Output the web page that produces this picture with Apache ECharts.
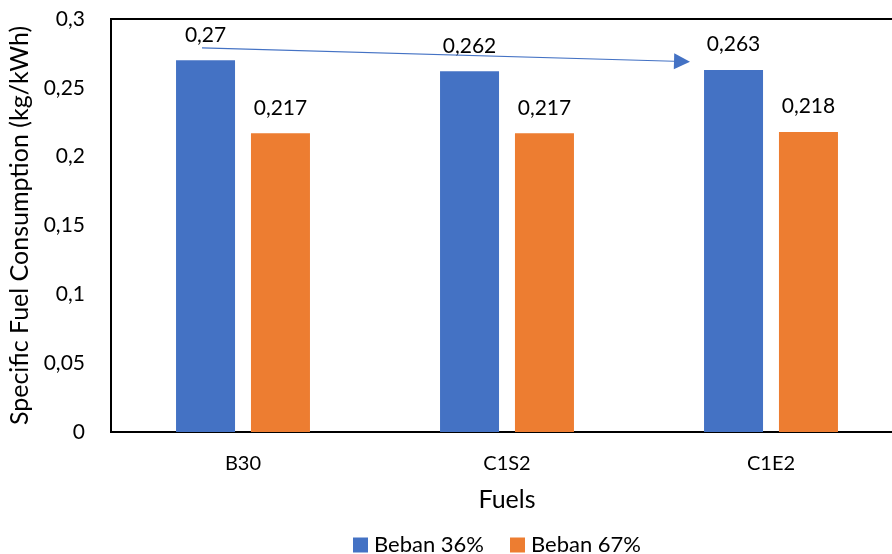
<!DOCTYPE html>
<html><head><meta charset="utf-8">
<script src="https://cdn.jsdelivr.net/npm/echarts@6/dist/echarts.min.js"></script>
<style>html,body{margin:0;padding:0;background:#fff}#c{width:892px;height:554px}</style>
</head><body><div id="c"></div>
<script>
const categories = ['B30', 'C1S2', 'C1E2'];
const beban36 = [0.27, 0.262, 0.263];
const beban67 = [0.217, 0.217, 0.218];
const seriesNames = ['Beban 36%', 'Beban 67%'];
const arrowStart = ['B30', 0.279];
const arrowEnd = ['C1E2', 0.269];

const FONT = 'Lato';
const fmt = v => String(v).replace('.', ',');
const chart = echarts.init(document.getElementById('c'), null, {renderer: 'canvas'});
const labelStyle = {show: true, position: 'top', distance: 15, fontFamily: FONT, fontSize: 21, color: '#000',
  formatter: p => fmt(p.value)};
chart.setOption({
  animation: false,
  textStyle: {fontFamily: FONT},
  grid: {left: 111, right: -11, top: 19, bottom: 122, show: true, borderColor: '#000', borderWidth: 2,
    outerBoundsMode: 'none', containLabel: false},
  legend: {top: 529, left: 348, itemWidth: 15, itemHeight: 15, itemGap: 26, icon: 'rect',
    textStyle: {fontFamily: FONT, fontSize: 22, color: '#000', padding: [0, 0, 0, 1]}, data: seriesNames},
  xAxis: {type: 'category', data: categories, name: 'Fuels', nameLocation: 'middle', nameGap: 55,
    nameTextStyle: {fontFamily: FONT, fontSize: 25, color: '#000'},
    axisLine: {lineStyle: {color: '#000', width: 2}}, axisTick: {show: false},
    axisLabel: {fontFamily: FONT, fontSize: 20, color: '#000', margin: 22}},
  yAxis: {type: 'value', min: 0, max: 0.3, interval: 0.05,
    name: 'Specific Fuel Consumption (kg/kWh)', nameLocation: 'middle', nameGap: 77,
    nameTextStyle: {fontFamily: FONT, fontSize: 25, color: '#000'},
    axisLine: {show: true, lineStyle: {color: '#000', width: 2}}, axisTick: {show: false},
    splitLine: {show: false},
    axisLabel: {fontFamily: FONT, fontSize: 21, color: '#000', margin: 26,
      formatter: v => fmt(+v.toFixed(2))}},
  series: [
    {name: seriesNames[0], type: 'bar', data: beban36, barWidth: 59, barGap: '27%',
      itemStyle: {color: '#4472C4'}, label: labelStyle},
    {name: seriesNames[1], type: 'bar', data: beban67, barWidth: 59,
      itemStyle: {color: '#ED7D31'}, label: labelStyle}
  ]
});
// Annotation arrow between Beban 36% bars
const p0 = chart.convertToPixel({gridIndex: 0}, arrowStart);
const p1 = chart.convertToPixel({gridIndex: 0}, arrowEnd);
const x0 = p0[0] - 41, y0 = p0[1];
const x1 = p1[0] - 81, y1 = p1[1];
const ang = Math.atan2(y1 - y0, x1 - x0);
const hl = 16, hw = 8;
const bx = x1 - hl * Math.cos(ang), by = y1 - hl * Math.sin(ang);
chart.setOption({graphic: [
  {type: 'line', shape: {x1: x0, y1: y0, x2: bx, y2: by}, style: {stroke: '#4472C4', lineWidth: 1.2}, z: 100},
  {type: 'polygon', shape: {points: [[x1, y1],
    [bx - hw * Math.sin(ang), by + hw * Math.cos(ang)],
    [bx + hw * Math.sin(ang), by - hw * Math.cos(ang)]]}, style: {fill: '#4472C4'}, z: 100}
]});
</script></body></html>
